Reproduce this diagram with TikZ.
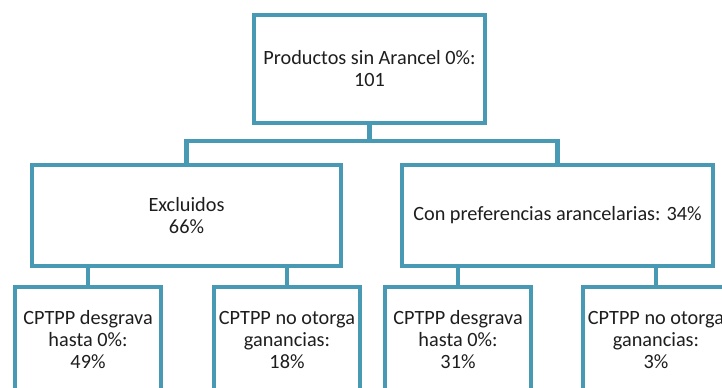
\documentclass[tikz,border=0pt]{standalone}
\usepackage{fontspec}
\setmainfont{Carlito}
\usepackage{tikz}
\usepackage{xcolor}
\definecolor{tealbox}{RGB}{72,154,180}
\definecolor{textgray}{RGB}{30,30,30}

\tikzset{
  box/.style={draw=tealbox, line width=3pt, fill=white, align=center,
    text=textgray, font=\fontsize{15.2}{16.5}\selectfont, inner sep=2pt},
  link/.style={draw=tealbox, line width=3.6pt}
}

\begin{document}
\begin{tikzpicture}[x=0.75pt,y=0.75pt,yscale=-1]
\useasboundingbox (0,0) rectangle (722,388);
\clip (0,0) rectangle (722,388);

% Level 0
\node[box, minimum width=173.25pt, minimum height=81pt] (total) at (369.5,69)
  {Productos sin Arancel 0\%:\\101};

% Level 1
\node[box, minimum width=231.75pt, minimum height=75.75pt] (excl) at (186.5,215.5)
  {Excluidos\\66\%};
\node[box, minimum width=233.25pt, minimum height=75.75pt] (pref) at (557.5,215.5)
  {Con preferencias arancelarias: 34\%};

% Level 2
\node[box, minimum width=109.5pt, minimum height=79.5pt] (exclA) at (88,340)
  {CPTPP desgrava\\hasta 0\%:\\49\%};
\node[box, minimum width=109.5pt, minimum height=79.5pt] (exclB) at (287,340)
  {CPTPP no otorga\\ganancias:\\18\%};
\node[box, minimum width=109.5pt, minimum height=79.5pt] (prefA) at (458,340)
  {CPTPP desgrava\\hasta 0\%:\\31\%};
\node[box, minimum width=109.5pt, minimum height=79.5pt] (prefB) at (656,340)
  {CPTPP no otorga\\ganancias:\\3\%};

% Connectors
\coordinate (bar) at (369.5,141);
\draw[link] (total.south) -- (bar) -| (excl.north);
\draw[link] (bar) -| (pref.north);
\draw[link] (exclA.north) -- (exclA.north |- excl.south);
\draw[link] (exclB.north) -- (exclB.north |- excl.south);
\draw[link] (prefA.north) -- (prefA.north |- pref.south);
\draw[link] (prefB.north) -- (prefB.north |- pref.south);

\end{tikzpicture}
\end{document}
